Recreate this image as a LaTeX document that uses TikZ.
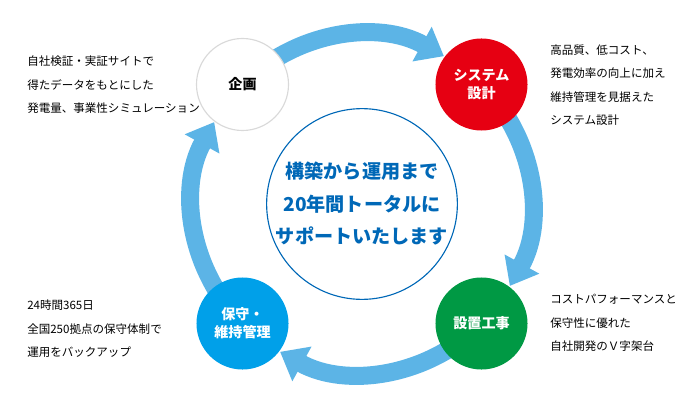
\documentclass[tikz,border=0pt]{standalone}
\usepackage{fontspec}
\setmainfont{Noto Sans CJK JP}
\usetikzlibrary{arrows.meta, calc, backgrounds}
\definecolor{arrowblue}{RGB}{92,180,230}
\definecolor{designred}{RGB}{230,0,18}
\definecolor{buildgreen}{RGB}{0,153,68}
\definecolor{maintblue}{RGB}{0,160,233}
\definecolor{hubblue}{RGB}{0,104,183}
\definecolor{edgegray}{RGB}{217,217,217}

\begin{document}
\begin{tikzpicture}[
    x=0.025cm, y=0.025cm,
    phase/.style={circle, minimum size=2.3cm, inner sep=0pt, align=center, font=\fontsize{10}{12.8}\selectfont\bfseries, text=white},
    hub/.style={circle, draw=hubblue, line width=0.8pt, minimum size=4.35cm, inner sep=0pt, align=center, text=hubblue, font=\fontsize{13.6}{23.1}\selectfont\bfseries},
    note/.style={anchor=west, align=left, inner sep=0pt, font=\fontsize{8.2}{16.7}\selectfont},
    ringarrow/.style={arrowblue, line width=0.45cm, -{Triangle[width=0.95cm, length=0.625cm]}}
]
\useasboundingbox (0,0) rectangle (698,410);

% Centre of the cycle
\coordinate (ring) at (362,206);

% Phases
\node[phase, fill=white, draw=edgegray, line width=0.8pt, text=black] (plan) at ($(ring)+(135:169)$) {企画};
\node[phase, fill=designred] (design) at ($(ring)+(45:169)$) {システム\\設計};
\node[phase, fill=buildgreen] (build) at ($(ring)+(-45:169)$) {設置工事};
\node[phase, fill=maintblue] (maint) at ($(ring)+(-135:169)$) {保守・\\維持管理};

% Centre message
\node[hub] (hub) at (ring) {構築から運用まで\\20年間トータルに\\サポートいたします};

% Arrows (cycle)
\begin{scope}[on background layer]
\draw[ringarrow] (plan.center) arc[start angle=135, end angle=61, radius=169];
\draw[ringarrow] (design.center) arc[start angle=45, end angle=-29, radius=169];
\draw[ringarrow] (build.center) arc[start angle=-45, end angle=-119, radius=169];
\draw[ringarrow] (maint.center) arc[start angle=-135, end angle=-209, radius=169];
\end{scope}

% Notes
\node[note] (plannote) at (27,325) {自社検証・実証サイトで\\得たデータをもとにした\\発電量、事業性シミュレーション};
\node[note] (designnote) at (550,325) {高品質、低コスト、\\発電効率の向上に加え\\維持管理を見据えた\\システム設計};
\node[note] (buildnote) at (550,87) {コストパフォーマンスと\\保守性に優れた\\自社開発のＶ字架台};
\node[note] (maintnote) at (27,81) {24時間365日\\全国250拠点の保守体制で\\運用をバックアップ};

\end{tikzpicture}
\end{document}
